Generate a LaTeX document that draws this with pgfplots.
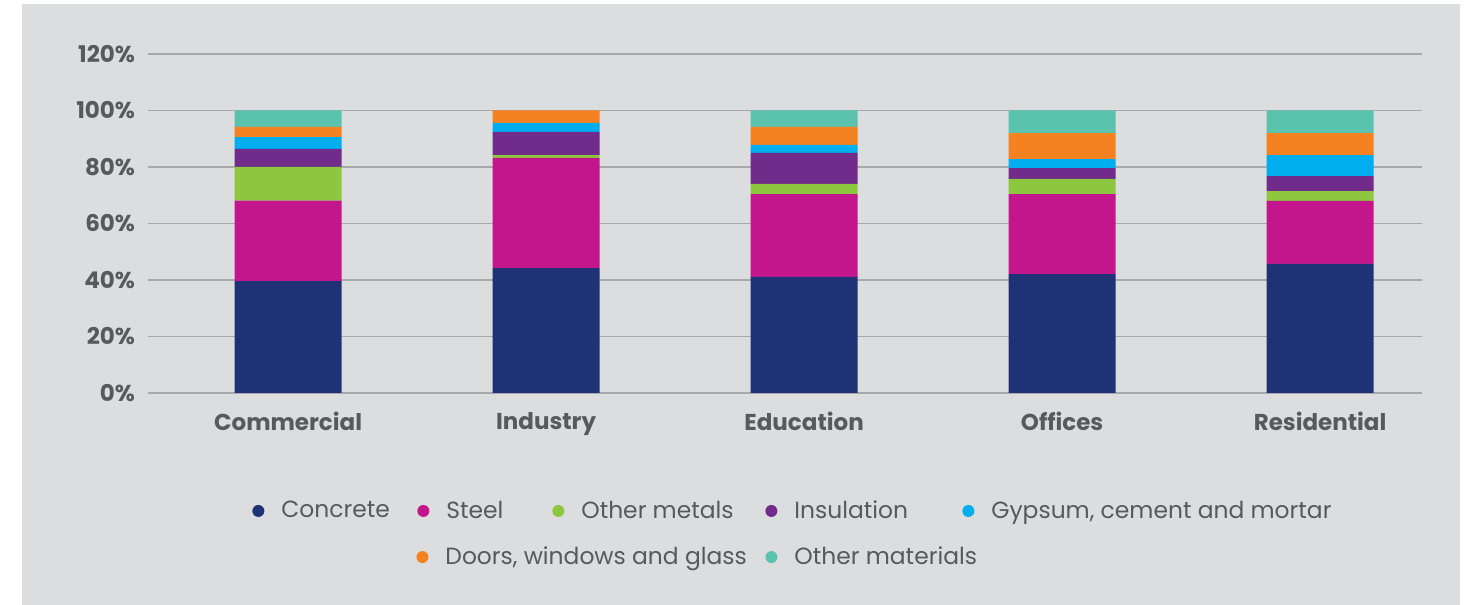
\documentclass[border=0pt]{standalone}
\usepackage{pgfplots}
\pgfplotsset{compat=1.18}
\usepackage{fontspec}
\setmainfont{Poppins}
\definecolor{bgc}{HTML}{DCDDDF}
\definecolor{gridc}{HTML}{A7A9AC}
\definecolor{txt}{HTML}{58595B}
\definecolor{cConcrete}{HTML}{1F3275}
\definecolor{cSteel}{HTML}{C4168C}
\definecolor{cMetals}{HTML}{8DC63F}
\definecolor{cInsul}{HTML}{702B8B}
\definecolor{cGypsum}{HTML}{00AEEF}
\definecolor{cDoors}{HTML}{F58220}
\definecolor{cOther}{HTML}{5BC2AE}
\pgfplotsset{
  dotlegend/.style={legend image code/.code={\fill[##1] (0pt,0pt) circle (3pt); \path[draw=none,fill=none] (-3pt,-3pt) rectangle (11.5pt,3pt);}},
}
\tikzset{legfont/.style={font=\fontsize{11.7}{14}\selectfont, text=txt}}
\begin{document}
\begin{tikzpicture}
\fill[white] (0,0) rectangle (734pt,302.5pt);
\fill[bgc] (11pt,0) rectangle (730pt,300.5pt);
\begin{axis}[
  at={(74pt,106pt)}, anchor=south west,
  scale only axis, width=637pt, height=169.5pt,
  ybar stacked, bar width=0.415,
  xmin=-0.543, xmax=4.395, ymin=0, ymax=120,
  xtick={0,1,2,3,4},
  xticklabels={Commercial,Industry,Education,Offices,Residential},
  ytick={0,20,40,60,80,100,120},
  yticklabels={0\%,20\%,40\%,60\%,80\%,100\%,120\%},
  ymajorgrids, grid style={gridc, line width=0.75pt},
  axis line style={draw=none}, major tick length=0pt,
  tick label style={font=\bfseries\fontsize{11.5}{13}\selectfont, text=txt},
  yticklabel style={xshift=-3pt},
  xticklabel style={yshift=-6pt},
  legend columns=5,
  legend cell align=left,
  legend style={draw=none, fill=none, at={(0.0816,-0.348)}, anchor=west,
    column sep=0pt, inner sep=0pt, nodes={inner sep=0pt, anchor=west, legfont}},
]
\addplot[fill=cConcrete, draw=none, dotlegend] coordinates {(0,39.6) (1,44.2) (2,41.1) (3,42.1) (4,45.7)};
\addlegendentry{\makebox[68pt][l]{Concrete}}
\addplot[fill=cSteel, draw=none, dotlegend] coordinates {(0,28.5) (1,39.0) (2,29.3) (3,28.3) (4,22.3)};
\addlegendentry{\makebox[53pt][l]{Steel}}
\addplot[fill=cMetals, draw=none, dotlegend] coordinates {(0,11.9) (1,1.0) (2,3.6) (3,5.4) (4,3.5)};
\addlegendentry{\makebox[92pt][l]{Other metals}}
\addplot[fill=cInsul, draw=none, dotlegend] coordinates {(0,6.4) (1,8.2) (2,11.0) (3,3.8) (4,5.3)};
\addlegendentry{\makebox[84pt][l]{Insulation}}
\addplot[fill=cGypsum, draw=none, dotlegend] coordinates {(0,4.2) (1,3.2) (2,2.8) (3,3.2) (4,7.4)};
\addlegendentry{Gypsum, cement and mortar}
\addplot[fill=cDoors, draw=none, forget plot] coordinates {(0,3.6) (1,4.4) (2,6.4) (3,9.2) (4,7.8)};
\addplot[fill=cOther, draw=none, forget plot] coordinates {(0,5.8) (1,0) (2,5.8) (3,8.0) (4,8.0)};
\end{axis}
\begin{axis}[
  at={(74pt,106pt)}, anchor=south west,
  scale only axis, width=637pt, height=169.5pt,
  hide axis, xmin=0, xmax=1, ymin=0, ymax=1,
  legend columns=2,
  legend cell align=left,
  legend style={draw=none, fill=none, at={(0.2104,-0.484)}, anchor=west,
    column sep=0pt, inner sep=0pt, nodes={inner sep=0pt, anchor=west, legfont}},
]
\addlegendimage{dotlegend, fill=cDoors, draw=none}
\addlegendentry{\makebox[160pt][l]{Doors, windows and glass}}
\addlegendimage{dotlegend, fill=cOther, draw=none}
\addlegendentry{Other materials}
\end{axis}
\end{tikzpicture}
\end{document}
